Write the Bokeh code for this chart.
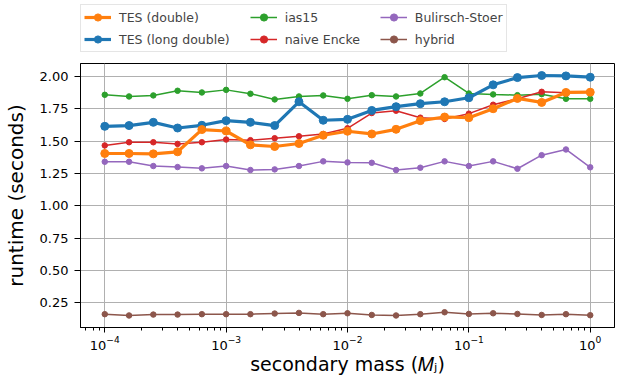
from bokeh.plotting import figure
from bokeh.layouts import column
from bokeh.models import (Legend, LegendItem, FixedTicker, LogTicker, NumeralTickFormatter,
                          Range1d, LogTickFormatter)
from bokeh.embed import file_html
from bokeh.resources import INLINE

# secondary masses (Jupiter masses)
masses = [1.0e-4, 1.585e-4, 2.512e-4, 3.981e-4, 6.310e-4,
          1.0e-3, 1.585e-3, 2.512e-3, 3.981e-3, 6.310e-3,
          1.0e-2, 1.585e-2, 2.512e-2, 3.981e-2, 6.310e-2,
          1.0e-1, 1.585e-1, 2.512e-1, 3.981e-1, 6.310e-1, 1.0]

tes_double = [1.405, 1.405, 1.402, 1.418, 1.590, 1.579, 1.472, 1.459, 1.482, 1.546,
              1.577, 1.556, 1.592, 1.659, 1.687, 1.682, 1.751, 1.831, 1.800, 1.877, 1.879]
tes_long_double = [1.615, 1.621, 1.646, 1.602, 1.623, 1.659, 1.646, 1.621, 1.805, 1.662,
                   1.669, 1.738, 1.767, 1.790, 1.805, 1.836, 1.936, 1.992, 2.008, 2.005, 1.995]
ias15 = [1.859, 1.846, 1.854, 1.890, 1.877, 1.897, 1.867, 1.823, 1.846, 1.854,
         1.828, 1.856, 1.846, 1.869, 1.995, 1.869, 1.862, 1.856, 1.864, 1.828, 1.828]
naive_encke = [1.467, 1.492, 1.492, 1.479, 1.492, 1.513, 1.508, 1.523, 1.538, 1.556,
               1.600, 1.718, 1.736, 1.682, 1.672, 1.713, 1.782, 1.828, 1.882, 1.874, 1.879]
bulirsch_stoer = [1.341, 1.341, 1.308, 1.300, 1.290, 1.308, 1.277, 1.282, 1.308, 1.344,
                  1.336, 1.333, 1.277, 1.295, 1.344, 1.308, 1.344, 1.287, 1.392, 1.436, 1.298]
hybrid = [0.162, 0.152, 0.159, 0.159, 0.162, 0.162, 0.162, 0.167, 0.172, 0.162,
          0.169, 0.156, 0.152, 0.162, 0.177, 0.164, 0.169, 0.164, 0.156, 0.162, 0.154]

y_ticks = [0.25, 0.50, 0.75, 1.00, 1.25, 1.50, 1.75, 2.00]

FONT = "DejaVu Sans"

series = [
    ("TES (double)", tes_double, "#ff7f0e", 3.2, 8),
    ("TES (long double)", tes_long_double, "#1f77b4", 3.2, 8),
    ("ias15", ias15, "#2ca02c", 1.5, 5.5),
    ("naive Encke", naive_encke, "#d62728", 1.5, 5.5),
    ("Bulirsch-Stoer", bulirsch_stoer, "#9467bd", 1.5, 5.5),
    ("hybrid", hybrid, "#8c564b", 1.5, 5.5),
]
# trailing spaces widen the legend columns (matplotlib-like column spacing)
legend_labels = ["TES (double)", "TES (long double)    ", "ias15", "naive Encke    ",
                 "Bulirsch-Stoer", "hybrid"]

# ---------------- main chart ----------------
p = figure(width=620, height=315, x_axis_type="log", output_backend="svg",
           toolbar_location=None,
           x_range=Range1d(10 ** -4.2, 10 ** 0.2), y_range=Range1d(0.059, 2.101),
           min_border_left=79, min_border_right=6, min_border_top=1, min_border_bottom=49)

p.outline_line_color = "black"
p.outline_line_width = 1

p.xaxis.ticker = LogTicker(num_minor_ticks=10)
p.xaxis.formatter = LogTickFormatter()
p.yaxis.ticker = FixedTicker(ticks=y_ticks)
p.yaxis.formatter = NumeralTickFormatter(format="0.00")
for ax in (p.xaxis[0], p.yaxis[0]):
    ax.major_label_text_font = FONT
    ax.major_label_text_font_size = "13px"
    ax.major_label_text_color = "black"
    ax.axis_label_text_font = FONT
    ax.axis_label_text_font_size = "20px"
    ax.axis_label_text_font_style = "normal"
    ax.axis_label_text_color = "black"
    ax.axis_line_color = "black"
    ax.major_tick_line_color = "black"
    ax.minor_tick_line_color = "black"
    ax.major_tick_in = 0
    ax.major_tick_out = 5
    ax.minor_tick_in = 0
    ax.minor_tick_out = 3
p.xaxis.major_label_standoff = 3
p.xaxis.axis_label = "secondary mass (\U0001D440\u2C7C)"
p.xaxis.axis_label_standoff = 0
p.xaxis.axis_label_text_font_size = "19px"
p.yaxis.major_label_standoff = 6
p.yaxis.major_tick_out = 6
p.yaxis.minor_tick_line_color = None
p.yaxis.axis_label = "runtime (seconds)"
p.yaxis.axis_label_standoff = 9

p.xgrid.grid_line_color = "#b0b0b0"
p.ygrid.grid_line_color = "#b0b0b0"
p.xgrid.grid_line_width = 1
p.ygrid.grid_line_width = 1

draw_order = [2, 3, 4, 5, 1, 0]
for i in draw_order:
    name, ys, color, lw, ms = series[i]
    p.line(masses, ys, line_color=color, line_width=lw)
    p.scatter(masses, ys, size=ms, fill_color=color, line_color=color)

# ---------------- legend strip on top ----------------
# same series drawn again, outside this strip's visible range, only as legend keys
lg = figure(width=620, height=62, output_backend="svg", toolbar_location=None,
            x_range=Range1d(0, 1), y_range=Range1d(10, 11),
            x_axis_location=None, y_axis_location=None,
            min_border_left=0, min_border_right=0, min_border_top=0, min_border_bottom=0)
lg.outline_line_color = None
lg.xgrid.visible = False
lg.ygrid.visible = False

items = []
for (name, ys, color, lw, ms), lab in zip(series, legend_labels):
    l = lg.line(masses, ys, line_color=color, line_width=lw)
    c = lg.scatter(masses, ys, size=ms, fill_color=color, line_color=color)
    items.append(LegendItem(label=lab, renderers=[l, c]))

legend = Legend(items=items, orientation="vertical", nrows=2,
                location=(0, 10), margin=0, padding=3, spacing=4,
                glyph_width=27, glyph_height=18, label_standoff=8,
                label_text_font=FONT, label_text_font_size="12.5px",
                border_line_color="#cccccc", border_line_width=1,
                background_fill_alpha=0.8)
lg.add_layout(legend, "center")

layout = column(lg, p, spacing=0)
open("out.html", "w").write(file_html(layout, INLINE))
